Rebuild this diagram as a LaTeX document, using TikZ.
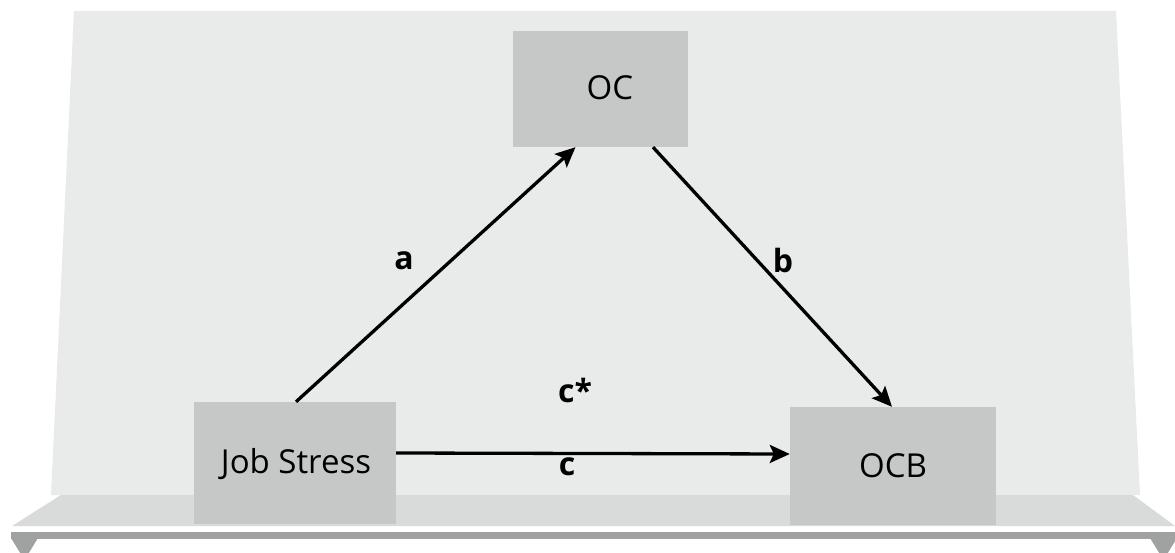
\documentclass[tikz,border=0pt]{standalone}
\usepackage{fontspec}
\setmainfont{Open Sans}
\usetikzlibrary{arrows.meta}
\definecolor{panel}{HTML}{E9EAEA}
\definecolor{shelf}{HTML}{D9DADA}
\definecolor{boxfill}{HTML}{C6C7C7}
\definecolor{bar}{HTML}{A0A1A1}
\tikzset{
  box/.style={fill=boxfill, draw=none, inner sep=0pt},
  boxtext/.style={font=\fontsize{33}{33}\selectfont, inner sep=0pt},
  lab/.style={font=\fontsize{32}{32}\selectfont\bfseries, inner sep=0pt},
  conn/.style={line width=3.3pt, -{Stealth[length=20pt, width=18pt, inset=4pt]}},
}
\begin{document}
\begin{tikzpicture}[x=1pt, y=-1pt]
\useasboundingbox (0,0) rectangle (1175,553);
% panel and shelf
\fill[panel] (74,11) -- (1116,11) -- (1140,495) -- (51,495) -- cycle;
\fill[shelf] (61,495) -- (1133,495) -- (1175,526) -- (12,526) -- cycle;
\fill[bar] (11,532) rectangle (1175,539);
\fill[bar] (11,538) -- (38,538) -- (24.5,560) -- cycle;
\fill[bar] (1150,538) -- (1177,538) -- (1163.5,560) -- cycle;
% boxes
\node[box, minimum width=175pt, minimum height=116pt] (oc) at (600.5,89) {};
\node[box, minimum width=202pt, minimum height=122pt] (js) at (295,463) {};
\node[box, minimum width=206pt, minimum height=118pt] (ocb) at (893,466) {};
\node[boxtext] (octext) at (610,88) {OC};
\node[boxtext] (jstext) at (296,464) {Job Stress};
\node[boxtext] (ocbtext) at (893,466) {OCB};
% connectors
\draw[conn] ([xshift=1pt]js.north) -- ([xshift=-25pt]oc.south);
\draw[conn] ([xshift=52.5pt]oc.south) -- ([xshift=-1pt]ocb.north);
\draw[conn] ([yshift=10pt]js.east) -- ([yshift=12pt]ocb.west);
% labels
\node[lab] (la) at (404,261) {a};
\node[lab] (lb) at (783,261) {b};
\node[lab] (lcs) at (575,390) {c*};
\node[lab] (lc) at (567,467) {c};
\end{tikzpicture}
\end{document}
